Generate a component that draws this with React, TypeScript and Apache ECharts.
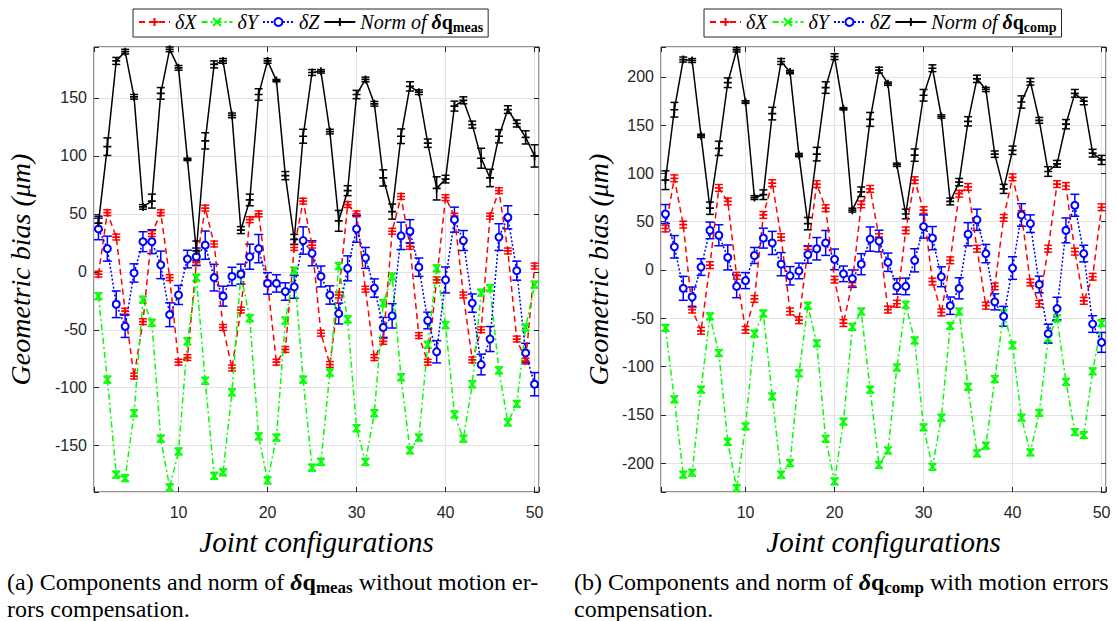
import React, { useEffect, useRef } from "react";
import * as echarts from "echarts";

// ---------- data ----------
const CONFIGS = [1, 2, 3, 4, 5, 6, 7, 8, 9, 10, 11, 12, 13, 14, 15, 16, 17, 18, 19, 20, 21, 22, 23, 24, 25, 26, 27, 28, 29, 30, 31, 32, 33, 34, 35, 36, 37, 38, 39, 40, 41, 42, 43, 44, 45, 46, 47, 48, 49, 50];
const X_TICKS = [10, 20, 30, 40, 50];

// panel (a): without motion errors compensation
const A_DX = [-2, 51, 30, -34, -90, -43, 33, 51, -5, -78, -74, 8, 55, 24, -48, -83, -33, 45, 50, -10, -78, -67, 21, 61, 23, -53, -80, -20, 58, 50, -15, -74, -60, 35, 65, 22, -55, -78, -7, 64, 48, -20, -76, -50, 48, 70, 18, -58, -77, 5];
const A_DY = [-21, -93, -175, -178, -122, -24, -44, -144, -186, -155, -60, -5, -94, -176, -173, -104, -2, -40, -142, -180, -143, -42, 1, -93, -169, -164, -87, 5, -41, -135, -164, -122, -27, -4, -91, -154, -143, -63, 3, -46, -123, -144, -97, -18, -14, -85, -130, -114, -48, -11];
const A_DZ = [37, 20, -28, -47, -1, 26, 26, 6, -37, -20, 11, 13, 23, -5, -21, -4, -2, 13, 20, -10, -10, -17, -13, 27, 16, -4, -20, -36, 3, 37, 12, -14, -48, -38, 31, 35, 4, -42, -69, -7, 45, 27, -27, -80, -58, 30, 47, 1, -70, -97];
const A_NORM = [42, 108, 182, 190, 151, 56, 61, 154, 192, 176, 97, 18, 113, 179, 182, 135, 36, 62, 153, 182, 165, 83, 28, 117, 172, 173, 121, 44, 70, 153, 166, 145, 81, 52, 117, 160, 155, 111, 72, 80, 143, 148, 127, 98, 81, 117, 140, 128, 116, 100];
const A_DX_ERR = 2.5;
const A_DY_ERR = 3;
const A_DZ_ERR = [9.3, 10.8, 11.5, 9.6, 7.9, 8.6, 10.3, 11.9, 10.3, 8.2, 7.6, 7.5, 12.2, 11.5, 8.6, 7.9, 8.6, 10.8, 12.2, 9.3, 7.5, 7.5, 9.8, 11.8, 10.8, 9, 7.9, 9, 10.8, 11.5, 9, 7.9, 8.6, 10.5, 11.8, 10, 7.9, 7.2, 9.6, 11.2, 10.8, 8.6, 7.9, 8.9, 10.8, 11.5, 10, 8.2, 8.3, 10];
const A_NORM_ERR = [6, 7.6, 3, 2, 2, 2, 6, 5, 2, 2, 1, 8.6, 7, 3, 2, 2, 3, 5, 5, 2, 1, 3.5, 4.3, 6, 2.5, 1.5, 2, 9, 4.3, 3.6, 2, 2, 7, 6.5, 6.3, 4, 2, 3.6, 10, 3.3, 4.3, 3, 3, 8.6, 7.5, 5.7, 3.3, 3, 5.7, 9.6];

// panel (b): with motion errors compensation
const B_DX = [43, 95, 47, -41, -63, 5, 85, 71, -6, -62, -30, 57, 90, 34, -43, -52, 21, 89, 64, -10, -55, -13, 68, 84, 34, -41, -35, 41, 93, 62, -12, -44, 10, 79, 86, 22, -37, -17, 54, 96, 58, -13, -35, 22, 89, 87, 19, -32, -7, 65];
const B_DY = [-60, -134, -212, -210, -124, -48, -86, -178, -226, -162, -66, -45, -131, -212, -200, -107, -37, -76, -175, -219, -157, -59, -43, -124, -202, -187, -101, -36, -73, -163, -204, -153, -58, -43, -121, -190, -182, -113, -45, -78, -153, -189, -148, -71, -50, -116, -168, -171, -105, -55];
const B_DZ = [58, 24, -19, -28, 3, 41, 36, 13, -17, -11, 15, 33, 28, 6, -6, -1, 16, 22, 28, 11, -4, -9, 6, 32, 30, 8, -17, -17, 10, 45, 33, -7, -37, -19, 37, 52, 17, -33, -48, 2, 57, 48, -15, -66, -40, 41, 67, 17, -56, -75];
const B_NORM = [93, 166, 218, 217, 139, 64, 126, 194, 228, 174, 75, 78, 162, 216, 205, 119, 48, 120, 189, 221, 167, 62, 81, 156, 207, 193, 109, 58, 119, 181, 209, 159, 71, 91, 154, 198, 187, 120, 84, 124, 174, 195, 155, 102, 110, 151, 183, 175, 121, 114];
const B_DX_ERR = 3.5;
const B_DY_ERR = 3.5;
const B_DZ_ERR = [9.8, 11.6, 12.4, 10.3, 8.6, 8.6, 10.9, 12.9, 11.7, 8.3, 8.3, 10.3, 12, 12, 9.5, 8.1, 9, 11.6, 12.9, 10.7, 8.1, 9, 10.9, 12.6, 11.2, 9.5, 8.1, 8.6, 12, 12, 12, 10.3, 9, 10.9, 12, 11, 9.5, 8.3, 10.3, 11.7, 11.7, 9.1, 8.6, 9.8, 11.7, 12.9, 11.4, 8.6, 8.6, 10.3];
const B_NORM_ERR = [9.7, 7.6, 2.6, 2, 1.7, 6.4, 7.4, 5, 2.2, 1.4, 2, 5, 6.5, 3, 1.7, 1.7, 6.4, 7, 6, 3, 1.2, 2, 5, 7.2, 3, 1.7, 1.7, 5, 6.4, 6, 3.5, 1.7, 3.5, 3.8, 4.8, 3.8, 2.2, 3.3, 4.7, 4.3, 6.4, 3.5, 3, 5, 3.5, 4.8, 4, 3.8, 4, 4.7];

// ---------- styles ----------
const RED = "#ff0000";
const GREEN = "#00ff00";
const BLUE = "#0000ff";
const BLACK = "#000000";
const AXIS = "#262626";
const GRIDC = "#e3e3e3";
const SERIF = "Liberation Serif";
const SANS = "Liberation Sans";
const PLUS = "path://M5,0L5,10M0,5L10,5";
const CROSS = "path://M0,0L10,10M10,0L0,10";

const pts = (ys: number[]) => CONFIGS.map((c, i) => [c, ys[i]]);
const errPts = (ys: number[], e: number | number[]) =>
  CONFIGS.map((c, i) => [c, ys[i], typeof e === "number" ? e : e[i]]);

function errorBars(name: string, data: number[][], color: string, xi: number, yi: number, cap: number) {
  return {
    type: "custom",
    name,
    xAxisIndex: xi,
    yAxisIndex: yi,
    data,
    silent: true,
    encode: { x: 0, y: 1 },
    renderItem: (_p: any, api: any) => {
      const x = api.value(0);
      const y = api.value(1);
      const e = api.value(2);
      const a = api.coord([x, y + e]);
      const b = api.coord([x, y - e]);
      const st = { stroke: color, lineWidth: 1.5, fill: null };
      return {
        type: "group",
        children: [
          { type: "line", shape: { x1: a[0], y1: a[1], x2: b[0], y2: b[1] }, style: st },
          { type: "line", shape: { x1: a[0] - cap, y1: a[1], x2: a[0] + cap, y2: a[1] }, style: st },
          { type: "line", shape: { x1: b[0] - cap, y1: b[1], x2: b[0] + cap, y2: b[1] }, style: st },
        ],
      };
    },
  };
}

function lineSeries(name: string, data: number[][], color: string, xi: number, yi: number, symbol: string, size: number, dash: any) {
  return {
    type: "line",
    name,
    xAxisIndex: xi,
    yAxisIndex: yi,
    data,
    symbol,
    symbolSize: size,
    showSymbol: true,
    showAllSymbol: true,
    silent: true,
    lineStyle: { color, width: 1.5, type: dash },
    itemStyle: { color, borderColor: color, borderWidth: 1.7 },
  };
}

const PANELS = [
  {
    left: 94, dx: A_DX, dy: A_DY, dz: A_DZ, norm: A_NORM,
    dxE: A_DX_ERR, dyE: A_DY_ERR, dzE: A_DZ_ERR, normE: A_NORM_ERR,
    yMin: -190, yMax: 194, normName: "Norm of δq_meas", legendLeft: 133, yNameGap: 60,
  },
  {
    left: 661, dx: B_DX, dy: B_DY, dz: B_DZ, norm: B_NORM,
    dxE: B_DX_ERR, dyE: B_DY_ERR, dzE: B_DZ_ERR, normE: B_NORM_ERR,
    yMin: -230, yMax: 231, normName: "Norm of δq_comp", legendLeft: 704, yNameGap: 49,
  },
];

const richLegend = {
  i: { fontFamily: SERIF, fontStyle: "italic", fontWeight: "normal", fontSize: 20, color: "#000", lineHeight: 24 },
  bd: { fontFamily: SERIF, fontStyle: "italic", fontWeight: "bold", fontSize: 20, color: "#000", lineHeight: 24 },
  bq: { fontFamily: SERIF, fontStyle: "normal", fontWeight: "bold", fontSize: 20, color: "#000", lineHeight: 24 },
  s: { fontFamily: SERIF, fontStyle: "normal", fontWeight: "bold", fontSize: 14, color: "#000", lineHeight: 16, verticalAlign: "bottom" },
};

const richCaption = {
  n: { fontFamily: SERIF, fontSize: 24, color: "#000", lineHeight: 28 },
  bd: { fontFamily: SERIF, fontStyle: "italic", fontWeight: "bold", fontSize: 24, color: "#000", lineHeight: 28 },
  bq: { fontFamily: SERIF, fontStyle: "normal", fontWeight: "bold", fontSize: 24, color: "#000", lineHeight: 28 },
  s: { fontFamily: SERIF, fontStyle: "normal", fontWeight: "bold", fontSize: 17, color: "#000", lineHeight: 20, verticalAlign: "bottom" },
};

const richCaption2 = {
  n: { fontFamily: SERIF, fontSize: 24, color: "#000", lineHeight: 24 },
};

function buildOption() {
  const grid: any[] = [];
  const xAxis: any[] = [];
  const yAxis: any[] = [];
  const series: any[] = [];
  const legend: any[] = [];

  PANELS.forEach((p, k) => {
    grid.push({
      left: p.left, top: 47, width: 445, height: 445,
      show: true, borderColor: AXIS, borderWidth: 1, backgroundColor: "#ffffff",
    });
    const xCommon = { type: "value", gridIndex: k, min: 0.5, max: 50.5, splitNumber: 5 };
    xAxis.push({
      ...xCommon,
      position: "bottom",
      axisLine: { show: false, onZero: false },
      axisTick: { inside: true, length: 5, lineStyle: { color: AXIS } },
      axisLabel: {
        color: AXIS, fontFamily: SANS, fontSize: 16, margin: 12,
        formatter: (v: number) => (X_TICKS.indexOf(v) >= 0 ? String(v) : ""),
      },
      splitLine: { show: true, lineStyle: { color: GRIDC, width: 1 } },
      name: "Joint configurations",
      nameLocation: "middle",
      nameGap: 35,
      nameTextStyle: { fontFamily: SERIF, fontStyle: "italic", fontSize: 29, color: "#000" },
    });
    xAxis.push({
      ...xCommon,
      position: "top",
      axisLine: { show: false, onZero: false },
      axisTick: { inside: true, length: 5, lineStyle: { color: AXIS } },
      axisLabel: { show: false },
      splitLine: { show: false },
    });
    const yCommon = { type: "value", gridIndex: k, min: p.yMin, max: p.yMax, splitNumber: 8 };
    yAxis.push({
      ...yCommon,
      position: "left",
      axisLine: { show: false, onZero: false },
      axisTick: { inside: true, length: 5, lineStyle: { color: AXIS } },
      axisLabel: {
        color: AXIS, fontFamily: SANS, fontSize: 16, margin: 7,
        formatter: (v: number) => (v % 50 === 0 ? String(v) : ""),
      },
      splitLine: { show: true, lineStyle: { color: GRIDC, width: 1 } },
      name: "Geometric bias (μm)",
      nameLocation: "middle",
      nameGap: p.yNameGap,
      nameRotate: 90,
      nameTextStyle: { fontFamily: SERIF, fontStyle: "italic", fontSize: 28, color: "#000" },
    });
    yAxis.push({
      ...yCommon,
      position: "right",
      axisLine: { show: false, onZero: false },
      axisTick: { inside: true, length: 5, lineStyle: { color: AXIS } },
      axisLabel: { show: false },
      splitLine: { show: false },
    });

    const xi = 2 * k;
    const yi = 2 * k;
    series.push(errorBars("dx-err-" + k, errPts(p.dx, p.dxE), RED, xi, yi, 4));
    series.push(lineSeries("δX", pts(p.dx), RED, xi, yi, PLUS, 8, [6, 4]));
    series.push(errorBars("dy-err-" + k, errPts(p.dy, p.dyE), GREEN, xi, yi, 4));
    series.push(lineSeries("δY", pts(p.dy), GREEN, xi, yi, CROSS, 7, [6, 3, 2, 3]));
    series.push(errorBars("dz-err-" + k, errPts(p.dz, p.dzE), BLUE, xi, yi, 4.5));
    series.push(lineSeries("δZ", pts(p.dz), BLUE, xi, yi, "emptyCircle", 7, [2, 2]));
    series.push(errorBars("norm-err-" + k, errPts(p.norm, p.normE), BLACK, xi, yi, 4));
    series.push(lineSeries(p.normName, pts(p.norm), BLACK, xi, yi, PLUS, 8, "solid"));

    legend.push({
      left: p.legendLeft,
      top: 9,
      orient: "horizontal",
      data: ["δX", "δY", "δZ", p.normName],
      selectedMode: false,
      itemWidth: 31,
      itemHeight: 10,
      itemGap: 4,
      padding: [3, 5, 3, 5],
      borderColor: AXIS,
      borderWidth: 1,
      backgroundColor: "#ffffff",
      textStyle: { fontFamily: SERIF, fontStyle: "italic", fontSize: 20, color: "#000", rich: richLegend },
      formatter: (name: string) => {
        if (name.indexOf("Norm") === 0) {
          const sub = name.slice(name.indexOf("_") + 1);
          return "{i|Norm of }{bd|δ}{bq|q}{s|" + sub + "}";
        }
        return "{i|" + name + "}";
      },
    });
  });

  const graphic = [
    {
      type: "text", left: 7, top: 570,
      style: { text: "{n|(a) Components and norm of }{bd|δ}{bq|q}{s|meas}{n| without motion er-}", rich: richCaption },
    },
    { type: "text", left: 7, top: 597, style: { text: "{n|rors compensation.}", rich: richCaption2 } },
    {
      type: "text", left: 574, top: 570,
      style: { text: "{n|(b) Components and norm of }{bd|δ}{bq|q}{s|comp}{n| with motion errors}", rich: richCaption },
    },
    { type: "text", left: 574, top: 597, style: { text: "{n|compensation.}", rich: richCaption2 } },
  ];

  return { animation: false, backgroundColor: "#ffffff", grid, xAxis, yAxis, series, legend, graphic };
}

export default function App() {
  const ref = useRef<HTMLDivElement>(null);
  useEffect(() => {
    if (!ref.current) return;
    const chart = echarts.init(ref.current, undefined, { renderer: "svg" });
    chart.setOption(buildOption() as any);
    return () => chart.dispose();
  }, []);
  return <div ref={ref} style={{ position: "fixed", left: 0, top: 0, width: 1117, height: 621 }} />;
}
